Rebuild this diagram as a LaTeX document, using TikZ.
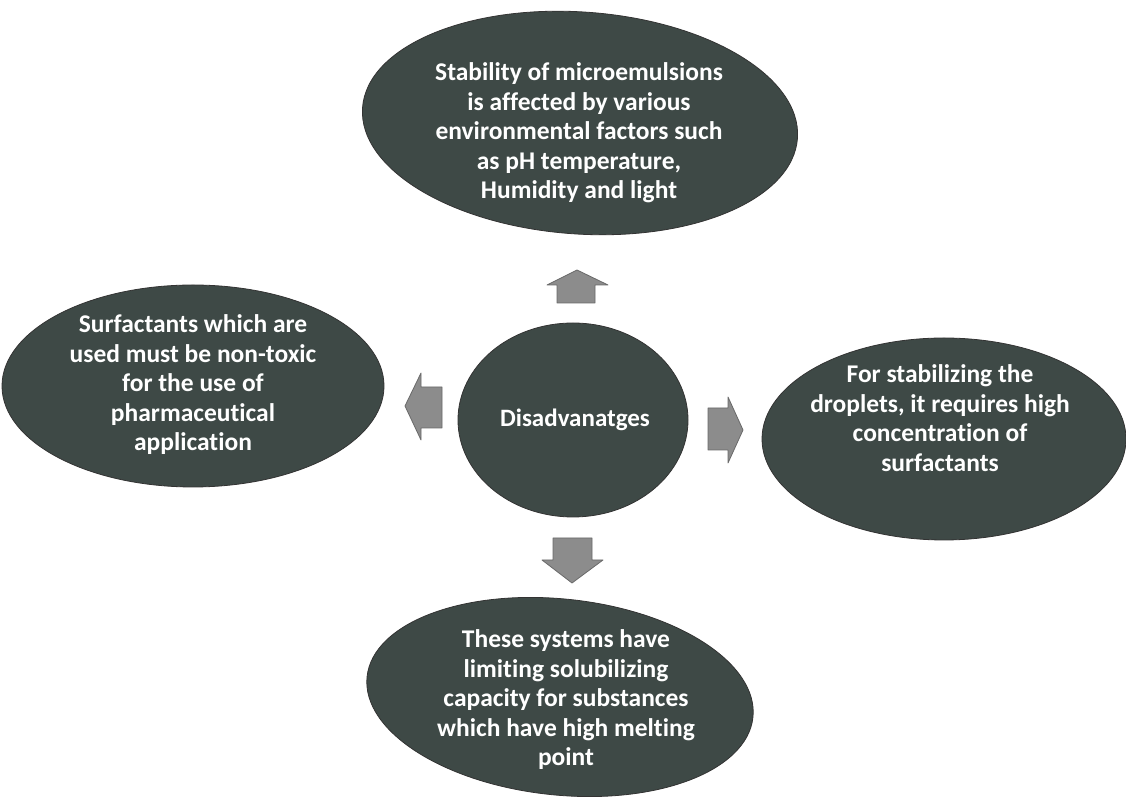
\documentclass[tikz,border=0pt]{standalone}
\usepackage{fontspec}
\setmainfont[Ligatures=NoCommon]{Carlito}
\usetikzlibrary{shapes.geometric}
\definecolor{bubblefill}{RGB}{62,73,70}
\definecolor{arrowfill}{RGB}{140,140,140}
\definecolor{arrowedge}{RGB}{105,105,105}
\tikzset{
  bubble/.style={ellipse, fill=bubblefill, draw=black!80, line width=0.8pt, inner sep=0pt},
  bubbletext/.style={text=white, align=center, inner sep=0pt,
    font=\bfseries\fontsize{25.5}{29.5}\selectfont},
  blockarrow/.style={fill=arrowfill, draw=arrowedge, line width=0.8pt, line join=round}
}
\begin{document}
\begin{tikzpicture}[x=1pt,y=1pt]
\useasboundingbox (0,0) rectangle (1126,799);
\fill[white] (0,0) rectangle (1126,799);

% centre bubble
\node[bubble, minimum width=230pt, minimum height=194pt] (hub) at (573,379) {};
\node[text=white, inner sep=0pt, font=\bfseries\fontsize{25}{29}\selectfont] (hubtext) at (575,379) {Disadvanatges};

% outer bubbles
\node[bubble, minimum width=436pt, minimum height=222pt, rotate=-4] (top) at (580,676) {};
\node[bubbletext] (toptext) at (579,666)
  {Stability of microemulsions\\is affected by various\\environmental factors such\\as pH temperature,\\Humidity and light};

\node[bubble, minimum width=382pt, minimum height=202pt] (left) at (193,413) {};
\node[bubbletext] (lefttext) at (193,414)
  {Surfactants which are\\used must be non-toxic\\for the use of\\pharmaceutical\\application};

\node[bubble, minimum width=364pt, minimum height=202pt] (right) at (944,360) {};
\node[bubbletext] (righttext) at (940,381)
  {For stabilizing the\\droplets, it requires high\\concentration of\\surfactants};

\node[bubble, minimum width=388pt, minimum height=196pt, rotate=-6] (bottom) at (560,102) {};
\node[bubbletext] (bottomtext) at (566,99)
  {These systems have\\limiting solubilizing\\capacity for substances\\which have high melting\\point};

% block arrows pointing outward from the hub
\draw[blockarrow] (557,496) -- (557,514) -- (547,514) -- (577,529) -- (608,514) -- (595,514) -- (595,496) -- cycle;
\draw[blockarrow] (442,412) -- (421,412) -- (421,426) -- (405,393) -- (421,359) -- (421,371) -- (442,371) -- cycle;
\draw[blockarrow] (708,391) -- (728,391) -- (728,402) -- (743,369) -- (728,336) -- (728,349) -- (708,349) -- cycle;
\draw[blockarrow] (553,261) -- (592,261) -- (592,239) -- (603,239) -- (572,216) -- (542,239) -- (553,239) -- cycle;
\end{tikzpicture}
\end{document}
